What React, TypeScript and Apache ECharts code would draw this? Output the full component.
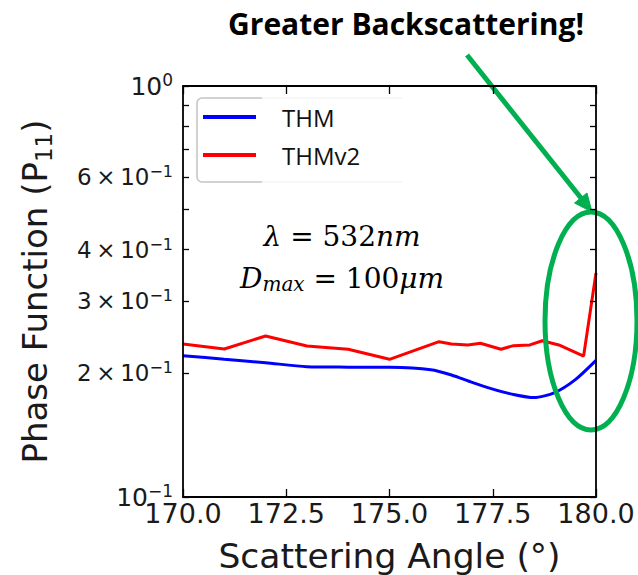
import React, { useEffect, useRef } from "react";
import * as echarts from "echarts";

const TITLE = "Greater Backscattering!";
const seriesNames = ["THM", "THMv2"];

const thmAngles = [170, 171, 172, 173, 174, 175, 176, 176.5, 177, 177.5, 178, 178.5, 179, 179.5, 180];
const thmValues = [0.2207, 0.2164, 0.2122, 0.2075, 0.207, 0.2068, 0.204, 0.1981, 0.19, 0.183, 0.1776, 0.1745, 0.1795, 0.193, 0.215];

const thmv2Angles = [170, 171, 172, 173, 174, 175, 176.2, 176.5, 176.9, 177.2, 177.7, 178, 178.4, 178.7, 179.1, 179.7, 180];
const thmv2Values = [0.2356, 0.2291, 0.2465, 0.2331, 0.2288, 0.2163, 0.2387, 0.2356, 0.2344, 0.2366, 0.2288, 0.2335, 0.2344, 0.24, 0.2344, 0.2203, 0.3508];

const xTicks = { min: 170, max: 180, interval: 2.5 };
const yRange = { min: 0.1, max: 1 };
const yTickValues = [0.1, 0.2, 0.3, 0.4, 0.5, 0.6, 0.7, 0.8, 0.9, 1];
const yLabelValues = [0.1, 0.2, 0.3, 0.4, 0.6, 1];

const annotationLine1 = "{i|λ}{n| = 532}{i|nm}";
const annotationLine2 = "{i|D}{sub|max}{n| = 100}{i|μm}";

const FONT = "DejaVu Sans";

function yLabel(v: number): string {
  if (Math.abs(v - 1) < 1e-6) return "{b|10}{sp|0}";
  if (Math.abs(v - 0.1) < 1e-6) return "{b|10}{sp|−1}";
  const m = Math.round(v * 10);
  return `{m|${m}\u2009×\u200910}{sm|−1}`;
}

const yRich = {
  b: { fontSize: 25, lineHeight: 30, fontFamily: FONT, color: "#1a1a1a" },
  sp: { fontSize: 17, lineHeight: 16, fontFamily: FONT, color: "#1a1a1a", verticalAlign: "top" },
  m: { fontSize: 23, lineHeight: 27, fontFamily: FONT, color: "#1a1a1a" },
  sm: { fontSize: 16, lineHeight: 15, fontFamily: FONT, color: "#1a1a1a", verticalAlign: "top" },
};

export default function App() {
  const ref = useRef<HTMLDivElement>(null);
  useEffect(() => {
    if (!ref.current) return;
    const chart = echarts.init(ref.current, undefined, { renderer: "svg" });
    const green = "#00B050";
    const axisCommon = {
      axisLine: { show: true, lineStyle: { color: "#000", width: 1.8 } },
      splitLine: { show: false },
      z: 10,
    };
    const option: any = {
      animation: false,
      backgroundColor: "#fff",
      grid: { left: 183, right: 42, top: 86, bottom: 78, containLabel: false, outerBoundsMode: "none" },
      legend: {
        data: seriesNames,
        left: 203,
        top: 105,
        orient: "vertical",
        padding: 0,
        icon: "rect",
        itemWidth: 53,
        itemHeight: 4,
        itemGap: 14,
        textStyle: { fontSize: 24, lineHeight: 24, fontFamily: "Open Sans", color: "#111", padding: [0, 0, 0, 21] },
        z: 6,
      },
      xAxis: [
        {
          ...axisCommon,
          type: "value",
          position: "bottom",
          min: xTicks.min,
          max: xTicks.max,
          interval: xTicks.interval,
          axisTick: { show: true, inside: true, length: 8, lineStyle: { color: "#000", width: 1.3 } },
          axisLabel: {
            formatter: (v: number) => v.toFixed(1),
            fontSize: 27,
            fontFamily: FONT,
            color: "#1a1a1a",
            margin: 3,
          },
          name: "Scattering Angle (°)",
          nameLocation: "middle",
          nameGap: 41,
          nameTextStyle: { fontSize: 34.5, fontFamily: FONT, color: "#1a1a1a" },
        },
        {
          ...axisCommon,
          type: "value",
          position: "top",
          min: xTicks.min,
          max: xTicks.max,
          interval: xTicks.interval,
          axisTick: { show: true, inside: true, length: 8, lineStyle: { color: "#000", width: 1.3 } },
          axisLabel: { show: false },
        },
      ],
      yAxis: [
        {
          ...axisCommon,
          type: "log",
          logBase: 10,
          position: "left",
          min: yRange.min,
          max: yRange.max,
          axisTick: { show: true, inside: true, length: 6, customValues: yTickValues, lineStyle: { color: "#000", width: 1.3 } },
          axisLabel: {
            customValues: yLabelValues,
            formatter: (v: number) => yLabel(v),
            rich: yRich,
            margin: 10,
          },
          name: "{n|Phase Function (P}{s|11}{n|)}",
          nameLocation: "middle",
          nameRotate: 90,
          nameGap: 128,
          nameTextStyle: {
            rich: {
              n: { fontSize: 34, lineHeight: 40, fontFamily: FONT, color: "#1a1a1a" },
              s: { fontSize: 23, lineHeight: 24, fontFamily: FONT, color: "#1a1a1a", verticalAlign: "bottom" },
            },
          },
        },
        {
          ...axisCommon,
          type: "log",
          logBase: 10,
          position: "right",
          min: yRange.min,
          max: yRange.max,
          axisTick: { show: true, inside: true, length: 6, customValues: yTickValues, lineStyle: { color: "#000", width: 1.3 } },
          axisLabel: { show: false },
        },
      ],
      series: [
        {
          name: seriesNames[0],
          type: "line",
          xAxisIndex: 0,
          yAxisIndex: 0,
          data: thmAngles.map((a, i) => [a, thmValues[i]]),
          showSymbol: false,
          symbol: "none",
          smooth: 0.25,
          lineStyle: { color: "#0000ff", width: 3 },
          itemStyle: { color: "#0000ff" },
          z: 3,
        },
        {
          name: seriesNames[1],
          type: "line",
          xAxisIndex: 0,
          yAxisIndex: 0,
          data: thmv2Angles.map((a, i) => [a, thmv2Values[i]]),
          showSymbol: false,
          symbol: "none",
          lineStyle: { color: "#ff0000", width: 3 },
          itemStyle: { color: "#ff0000" },
          z: 3,
        },
      ],
      graphic: [
        {
          type: "rect",
          z: 4,
          shape: { x: 197, y: 98, width: 205, height: 84, r: 5 },
          style: { fill: "#fff", stroke: "#c4c4c4", lineWidth: 1.5 },
        },
        {
          type: "rect",
          z: 4,
          shape: { x: 262, y: 96, width: 142, height: 88 },
          style: { fill: "#fff", stroke: "none" },
        },
        {
          type: "line",
          z: 4,
          shape: { x1: 262, y1: 98, x2: 402, y2: 98 },
          style: { stroke: "#efefef", lineWidth: 1 },
        },
        {
          type: "line",
          z: 4,
          shape: { x1: 262, y1: 182, x2: 402, y2: 182 },
          style: { stroke: "#efefef", lineWidth: 1 },
        },
        {
          type: "text",
          z: 20,
          x: 406,
          y: 23,
          style: {
            text: TITLE,
            fontSize: 30,
            fontWeight: "bold",
            fontFamily: "Open Sans",
            fill: "#000",
            align: "center",
            verticalAlign: "middle",
          },
        },
        {
          type: "text",
          z: 20,
          x: 342,
          y: 236,
          style: {
            text: annotationLine1,
            align: "center",
            verticalAlign: "middle",
            rich: {
              i: { fontSize: 28, lineHeight: 32, fontFamily: "DejaVu Serif", fontStyle: "italic", fill: "#000" },
              n: { fontSize: 28, lineHeight: 32, fontFamily: "DejaVu Serif", fill: "#000" },
            },
          },
        },
        {
          type: "text",
          z: 20,
          x: 342,
          y: 278,
          style: {
            text: annotationLine2,
            align: "center",
            verticalAlign: "middle",
            rich: {
              i: { fontSize: 28, lineHeight: 32, fontFamily: "DejaVu Serif", fontStyle: "italic", fill: "#000" },
              n: { fontSize: 28, lineHeight: 32, fontFamily: "DejaVu Serif", fill: "#000" },
              sub: { fontSize: 20, lineHeight: 18, fontFamily: "DejaVu Serif", fontStyle: "italic", fill: "#000", verticalAlign: "bottom" },
            },
          },
        },
        {
          type: "ellipse",
          z: 8,
          shape: { cx: 591, cy: 321, rx: 46, ry: 109 },
          style: { fill: "none", stroke: green, lineWidth: 5 },
        },
        {
          type: "line",
          z: 8,
          shape: { x1: 467, y1: 55, x2: 581, y2: 198 },
          style: { stroke: green, lineWidth: 5 },
        },
        {
          type: "polygon",
          z: 8,
          shape: { points: [[592, 212], [574.5, 203], [587, 193]] },
          style: { fill: green, stroke: green, lineWidth: 1 },
        },
      ],
    };
    chart.setOption(option);
    return () => chart.dispose();
  }, []);
  return <div ref={ref} style={{ position: "absolute", left: 0, top: 0, width: 638, height: 575 }} />;
}
